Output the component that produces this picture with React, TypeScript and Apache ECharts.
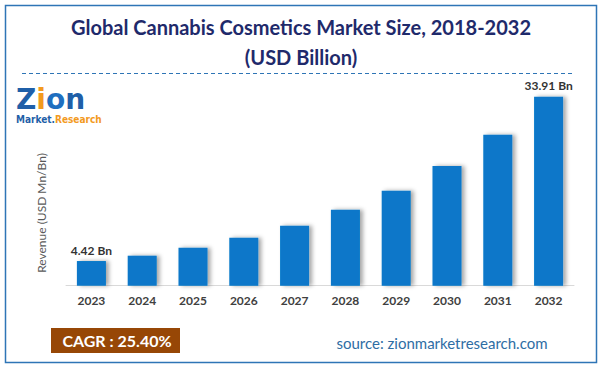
import React, { useEffect, useRef } from "react";
import * as echarts from "echarts";

const categories = ["2023", "2024", "2025", "2026", "2027", "2028", "2029", "2030", "2031", "2032"];
const revenue = [4.42, 5.38, 6.82, 8.61, 10.77, 13.64, 17.05, 21.48, 27.09, 33.91];
const labelledIndexes = [0, 9];
const titleLines = ["Global Cannabis Cosmetics Market Size, 2018-2032", "(USD Billion)"];
const yAxisName = "Revenue (USD Mn/Bn)";
const cagrText = "CAGR : 25.40%";
const sourceText = "source: zionmarketresearch.com";

export default function App() {
  const ref = useRef<HTMLDivElement>(null);
  useEffect(() => {
    document.body.style.margin = "0";
    const chart = echarts.init(ref.current!, null, { renderer: "svg" });
    const font = "Lato, 'Open Sans', sans-serif";
    const logoFont = "bold 28px 'DejaVu Sans', sans-serif";
    chart.setOption({
      animation: false,
      backgroundColor: "#ffffff",
      grid: { left: 66, right: 28, top: 80, bottom: 83.3 },
      xAxis: {
        type: "category",
        data: categories,
        axisLine: { show: true, lineStyle: { color: "#d9d9d9", width: 1 } },
        axisTick: { show: false },
        axisLabel: { color: "#404040", fontWeight: "bold", fontSize: 12, margin: 9, fontFamily: font },
      },
      yAxis: {
        type: "value",
        min: 0,
        max: 36.9,
        show: false,
        splitLine: { show: false },
      },
      series: [
        {
          type: "bar",
          barWidth: 29,
          data: revenue.map((v, i) => ({
            value: v,
            label: {
              show: labelledIndexes.includes(i),
              position: "top",
              distance: 5,
              formatter: "{c} Bn",
              color: "#333333",
              fontWeight: "bold",
              fontSize: 12,
              fontFamily: font,
            },
          })),
          itemStyle: {
            color: "#0777c9",
            shadowColor: "rgba(0,0,0,0.35)",
            shadowBlur: 4,
            shadowOffsetX: 3,
            shadowOffsetY: 0,
          },
        },
      ],
      graphic: [
        {
          type: "rect",
          shape: { x: 5.5, y: 5.5, width: 591, height: 357 },
          style: { fill: "none", stroke: "#2e75b6", lineWidth: 1.5 },
          silent: true,
        },
        {
          type: "text",
          x: 301,
          y: 27,
          style: {
            text: titleLines[0],
            font: `bold 20px ${font}`,
            fill: "#1f2a6b",
            textAlign: "center",
            textVerticalAlign: "middle",
          },
        },
        {
          type: "text",
          x: 301,
          y: 57,
          style: {
            text: titleLines[1],
            font: `bold 20px ${font}`,
            fill: "#1f2a6b",
            textAlign: "center",
            textVerticalAlign: "middle",
          },
        },
        {
          type: "line",
          shape: { x1: 22, y1: 73.5, x2: 573, y2: 73.5 },
          style: { stroke: "#2e75b6", lineWidth: 1, lineDash: [4, 3] },
        },
        {
          type: "text",
          x: 16,
          y: 86,
          style: {
            text: "{z|Z}{i|i}{o|o}{n|n}",
            rich: {
              z: { font: logoFont, fill: "#1f5fa8", lineHeight: 27 },
              i: { font: logoFont, fill: "#f39a1e", lineHeight: 27 },
              o: { font: logoFont, fill: "#1f6fc0", lineHeight: 27 },
              n: { font: logoFont, fill: "#1f5fa8", lineHeight: 27 },
            },
          },
        },
        {
          type: "text",
          x: 16,
          y: 114,
          style: {
            text: "{m|Market.}{r|Research}",
            rich: {
              m: { font: "bold 10px 'DejaVu Sans Condensed', 'DejaVu Sans', sans-serif", fill: "#1f5fa8", lineHeight: 11 },
              r: { font: "bold 10px 'DejaVu Sans Condensed', 'DejaVu Sans', sans-serif", fill: "#f39a1e", lineHeight: 11 },
            },
          },
        },
        {
          type: "text",
          x: 41.5,
          y: 213,
          rotation: Math.PI / 2,
          style: {
            text: yAxisName,
            font: `12px ${font}`,
            fill: "#595959",
            textAlign: "center",
            textVerticalAlign: "middle",
          },
        },
        {
          type: "rect",
          shape: { x: 51, y: 328, width: 129, height: 25 },
          style: { fill: "#974706" },
        },
        {
          type: "text",
          x: 117,
          y: 340.5,
          style: {
            text: cagrText,
            font: `bold 16px ${font}`,
            fill: "#ffffff",
            textAlign: "center",
            textVerticalAlign: "middle",
          },
        },
        {
          type: "text",
          x: 442,
          y: 343,
          style: {
            text: sourceText,
            font: `15px ${font}`,
            fill: "#2e6da4",
            textAlign: "center",
            textVerticalAlign: "middle",
          },
        },
      ],
    });
    return () => chart.dispose();
  }, []);
  return <div ref={ref} style={{ width: 602, height: 369 }} />;
}
